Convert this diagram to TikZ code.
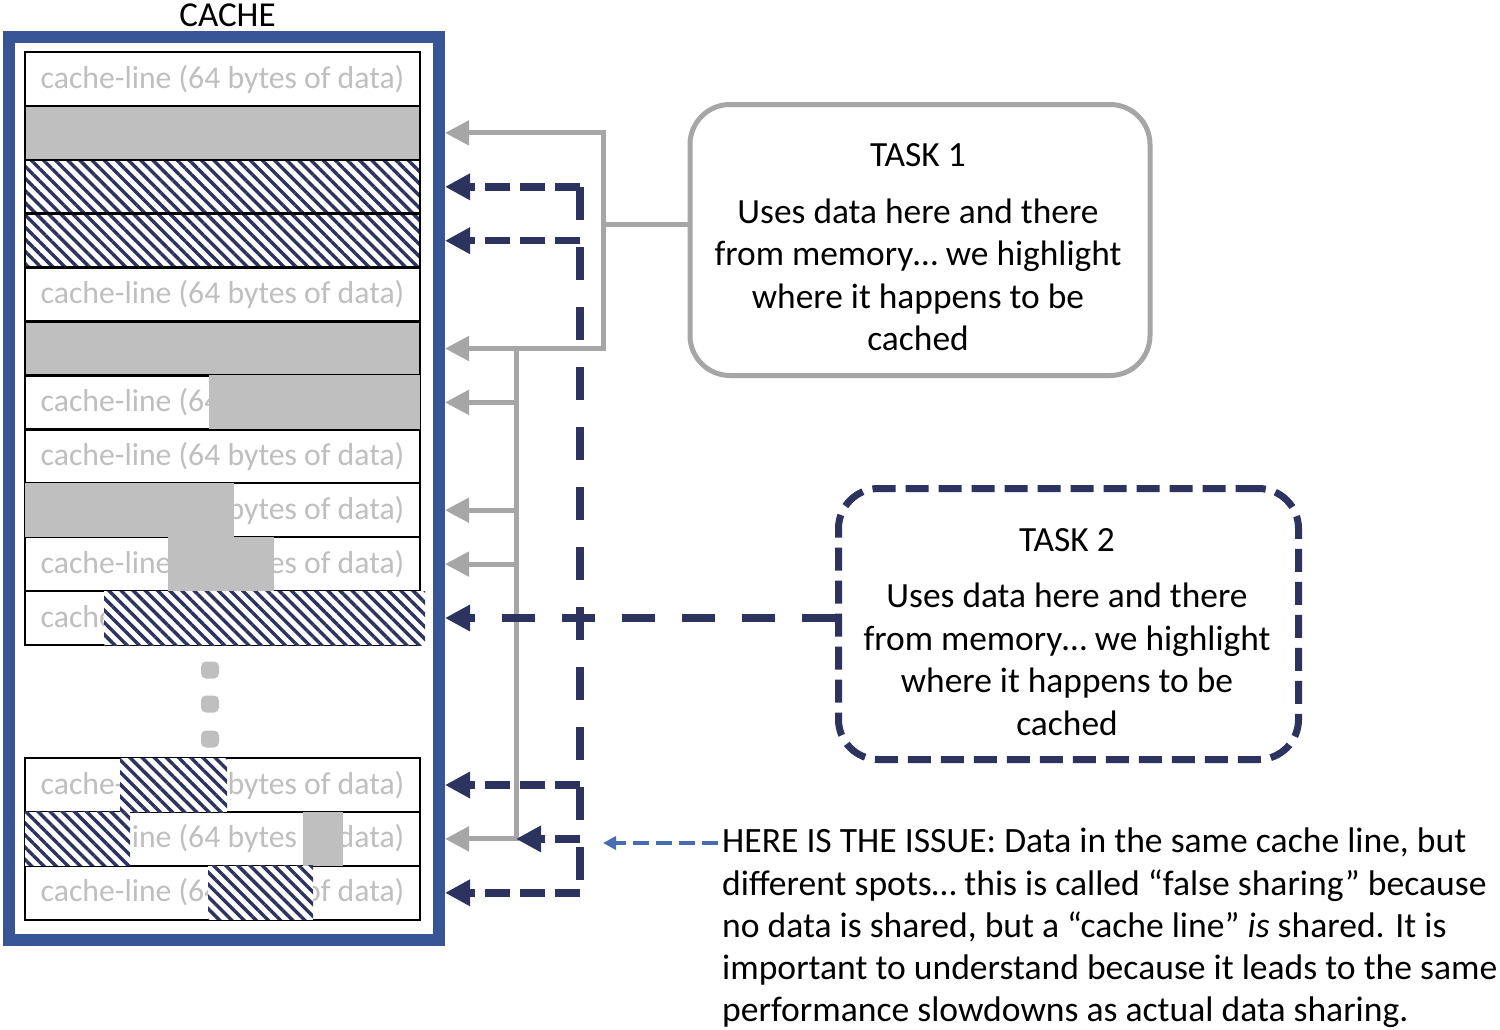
\documentclass[tikz,border=0pt]{standalone}
\usepackage{fontspec}
\setmainfont{Carlito}
\usetikzlibrary{positioning, arrows.meta, patterns.meta}

\definecolor{frameblue}{RGB}{56,86,150}
\definecolor{navy}{RGB}{45,51,95}
\definecolor{arrowgray}{RGB}{166,166,166}
\definecolor{patchgray}{RGB}{191,191,191}
\definecolor{issueblue}{RGB}{70,108,178}

\newcommand{\cachetext}{cache-line (64 bytes of data)}

\tikzset{
  cacheframe/.style={draw=frameblue, line width=12pt, inner sep=0pt},
  titletext/.style={font=\fontsize{35}{40}\selectfont, inner sep=0pt},
  cline/.style={draw=black, line width=2.5pt, fill=white, minimum width=395pt,
    minimum height=54pt, inner sep=0pt, outer sep=0pt, text=patchgray,
    font=\fontsize{31.7}{36}\selectfont},
  hatch/.style={preaction={fill=white},
    pattern={Lines[angle=-45, distance=8.6pt, line width=3.4pt]}, pattern color=navy},
  vdot/.style={fill=patchgray, rounded corners=5pt, minimum width=18pt,
    minimum height=17pt, inner sep=0pt},
  task1box/.style={draw=arrowgray, line width=5pt, rounded corners=40pt,
    minimum width=460pt, minimum height=271pt},
  task2box/.style={draw=navy, line width=7pt, dash pattern=on 23pt off 10pt,
    rounded corners=40pt, minimum width=460pt, minimum height=271pt},
  tasktext/.style={align=center, font=\fontsize{35.4}{42.5}\selectfont, inner sep=0pt},
  issuetext/.style={align=left, anchor=north west, font=\fontsize{35.6}{42.2}\selectfont,
    inner sep=0pt},
  gline/.style={draw=arrowgray, line width=5pt},
  garrow/.style={gline, -{Triangle[length=24pt, width=24pt]}},
  nline/.style={draw=navy, line width=7.5pt, dash pattern=on 25pt off 10pt},
  nlong/.style={draw=navy, line width=7.5pt, dash pattern=on 33pt off 27pt},
  narrow/.style={nline, -{Triangle[length=25pt, width=25pt]}},
  issuearrow/.style={draw=issueblue, line width=4pt, dash pattern=on 16pt off 7pt,
    -{Triangle[length=13pt, width=13pt]}}
}

\begin{document}
\begin{tikzpicture}[x=1pt, y=-1pt]
  \useasboundingbox[fill=white] (0,0) rectangle (1500,1029);

  % cache
  \node[cacheframe, minimum width=430pt, minimum height=903pt] (cache) at (224,488.5) {};
  \node[titletext] (title) at (227.5,15) {CACHE};

  % cache lines
  \node[cline] (r1) at (222.5,79) {\cachetext};
  \node[cline, fill=patchgray] (r2) at (222.5,132.9) {};
  \node[cline, hatch] (r3) at (222.5,186.8) {};
  \node[cline, hatch] (r4) at (222.5,240.7) {};
  \node[cline] (r5) at (222.5,294.6) {\cachetext};
  \node[cline, fill=patchgray] (r6) at (222.5,348.5) {};
  \node[cline] (r7) at (222.5,402.4) {\cachetext};
  \node[cline] (r8) at (222.5,456.3) {\cachetext};
  \node[cline] (r9) at (222.5,510.2) {\cachetext};
  \node[cline] (r10) at (222.5,564.1) {\cachetext};
  \node[cline] (r11) at (222.5,618) {\cachetext};
  \node[cline] (r12) at (222.5,785) {\cachetext};
  \node[cline] (r13) at (222.5,838.9) {\cachetext};
  \node[cline] (r14) at (222.5,892.8) {\cachetext};

  % parts in use
  \fill[patchgray] (r7.north west) ++(184,0) rectangle (r7.south east);
  \fill[patchgray] (r9.north west) rectangle ++(209,54);
  \fill[patchgray] (r10.north west) ++(143,0) rectangle ++(106,54);
  \fill[hatch] (r11.north west) ++(79,0) rectangle ++(321,54);
  \fill[hatch] (r12.north west) ++(95,0) rectangle ++(107,54);
  \fill[hatch] (r13.north west) rectangle ++(105,54);
  \fill[patchgray] (r13.north west) ++(278,0) rectangle ++(40,54);
  \fill[hatch] (r14.north west) ++(183,0) rectangle ++(105,54);

  \node[vdot] (dot1) at (210,670) {};
  \node[vdot] (dot2) at (210,704) {};
  \node[vdot] (dot3) at (210,739) {};

  % tasks
  \node[task1box] (task1) at (920,240) {};
  \node[tasktext] (task1text) at (918,247.5) {TASK 1\\[14pt]Uses data here and there\\from memory… we highlight\\where it happens to be\\cached};
  \node[task2box] (task2) at (1068.5,624) {};
  \node[tasktext] (task2text) at (1067,632) {TASK 2\\[14pt]Uses data here and there\\from memory… we highlight\\where it happens to be\\cached};

  \node[issuetext] (issue) at (722,828) {HERE IS THE ISSUE: Data in the same cache line, but\\different spots… this is called “false sharing” because\\no data is shared, but a “cache line” \textit{is} shared. It is\\important to understand because it leads to the same\\performance slowdowns as actual data sharing.};
  \coordinate (spot) at (603,843);

  % task 1 links
  \coordinate (g1) at (603,224);
  \coordinate (g2) at (516,348.5);
  \draw[gline] (task1.west |- g1) -- (g1);
  \draw[garrow] (g1) |- (cache.east |- r2);
  \draw[garrow] (g1) |- (cache.east |- r6);
  \foreach \r in {7,9,10,13}
    \draw[garrow] (g2) |- (cache.east |- r\r);

  % task 2 links
  \coordinate (n1) at (580,186.8);
  \draw[nlong] (n1) -- (n1 |- r14);
  \foreach \r in {3,4,12,14}
    \draw[narrow] (n1 |- r\r) -- (cache.east |- r\r);
  \draw[narrow] (n1 |- r13) -- (g2 |- r13);
  \draw[narrow, nlong] (task2.west |- r11) -- (cache.east |- r11);

  \draw[issuearrow] ([xshift=-4pt]issue.west |- spot) -- (spot);
\end{tikzpicture}
\end{document}
